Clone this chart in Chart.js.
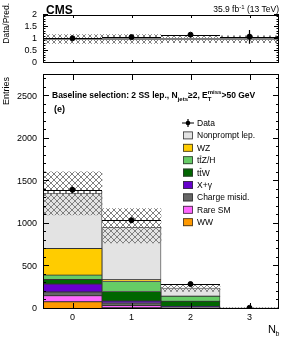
<!DOCTYPE html>
<html><head><meta charset="utf-8">
<script src="https://cdn.jsdelivr.net/npm/chart.js@4/dist/chart.umd.min.js"></script>
<style>
html,body{margin:0;padding:0;background:#fff;width:291px;height:339px;overflow:hidden}
canvas{position:absolute;left:0;top:0}
</style></head><body>
<canvas id="ratio" width="291" height="339"></canvas>
<canvas id="main" width="291" height="339"></canvas>
<script>
// ---------- data ----------
const categories = ["0", "1", "2", "3"];
const ww          = [85, 15, 2, 0.2];
const rareSM      = [71, 27, 5, 0.5];
const chargeMisid = [43, 28, 15, 1];
const xGamma      = [94, 24, 6, 0.5];
const ttW         = [54, 112, 62, 3];
const ttZH        = [51, 117, 58, 3];
const wz          = [312, 20, 3, 0.3];
const nonprompt   = [648, 617, 95, 5];
const dataCounts  = [1400, 1042, 293, 14];
const dataErr     = [37, 32, 17, 3.7];
const uncLow      = [1105, 775, 206, 8];
const uncHigh     = [1610, 1180, 288, 18];
const ratioVals     = [1.03, 1.08, 1.18, 1.1];
const ratioErrLow   = [0.03, 0.03, 0.06, 0.3];
const ratioErrHigh  = [0.03, 0.03, 0.06, 0.27];
const ratioUncLow   = [0.82, 0.82, 0.85, 0.85];
const ratioUncHigh  = [1.18, 1.18, 1.13, 1.13];
const mainYTickValues  = [0, 500, 1000, 1500, 2000, 2500];
const mainYTickLabels  = ["0", "500", "1000", "1500", "2000", "2500"];
const ratioYTickValues = [0, 0.5, 1, 1.5, 2];
const ratioYTickLabels = ["0", "0.5", "1", "1.5", "2"];

const legendNames = ["Nonprompt lep.", "WZ", "ttZ/H", "ttW", "X+\u03b3", "Charge misid.", "Rare SM", "WW"];

// ---------- style ----------
const FONT = '"Liberation Sans", Arial, Helvetica, sans-serif';
const fnt = (s, b) => (b ? 'bold ' : '') + s + 'px ' + FONT;
const COL = {
  nonprompt: '#e3e3e3', wz: '#ffcc00', ttZH: '#66cc66', ttW: '#006600',
  xGamma: '#6600cc', chargeMisid: '#666666', rareSM: '#ff66ff', ww: '#ff9900'
};
const BORDER = '#333333';

function makeHatch(ctx) {
  const c = document.createElement('canvas'); c.width = 6; c.height = 6;
  const g = c.getContext('2d');
  g.strokeStyle = '#808080'; g.lineWidth = 1;
  g.beginPath(); g.moveTo(-1, -1); g.lineTo(7, 7); g.moveTo(7, -1); g.lineTo(-1, 7); g.stroke();
  return ctx.createPattern(c, 'repeat');
}

function frameAndTicks(chart, cfg) {
  const {ctx, chartArea: a, scales} = chart;
  const y = scales.y, x = scales.x;
  ctx.save();
  ctx.strokeStyle = '#000'; ctx.lineWidth = 1;
  ctx.strokeRect(Math.round(a.left) + 0.5, Math.round(a.top) + 0.5,
                 Math.round(a.right) - Math.round(a.left) - 1, Math.round(a.bottom) - Math.round(a.top) - 1);
  ctx.beginPath();
  for (let k = 0; k * cfg.minorStep <= cfg.max + 1e-9; k++) {
    const v = k * cfg.minorStep;
    const py = Math.round(y.getPixelForValue(v)) - 0.5;
    const major = (k % cfg.perMajor) === 0;
    const L = major ? cfg.majorLen : cfg.minorLen;
    ctx.moveTo(a.left, py); ctx.lineTo(a.left + L, py);
    ctx.moveTo(a.right, py); ctx.lineTo(a.right - L, py);
  }
  categories.forEach((c, i) => {
    const px = Math.round(x.getPixelForValue(i)) + 0.5;
    ctx.moveTo(px, a.bottom); ctx.lineTo(px, a.bottom - cfg.xLen);
    ctx.moveTo(px, a.top); ctx.lineTo(px, a.top + cfg.xLen);
  });
  ctx.stroke();
  ctx.restore();
}

function drawDataMarks(chart, vals, lo, hi) {
  const {ctx, scales: {x, y}} = chart;
  const half = (x.getPixelForValue(1) - x.getPixelForValue(0)) / 2;
  ctx.save(); ctx.strokeStyle = '#000'; ctx.lineWidth = 1.2;
  vals.forEach((v, i) => {
    const px = x.getPixelForValue(i), py = Math.round(y.getPixelForValue(v)) + 0.5;
    ctx.beginPath();
    ctx.moveTo(px - half, py); ctx.lineTo(px + half, py);
    ctx.moveTo(px, y.getPixelForValue(v - lo[i])); ctx.lineTo(px, y.getPixelForValue(v + hi[i]));
    ctx.stroke();
  });
  ctx.restore();
}

// ---------- ratio panel ----------
const rctx = document.getElementById('ratio').getContext('2d');
const rHatch = makeHatch(rctx);
new Chart(rctx, {
  type: 'bar',
  data: {
    labels: categories,
    datasets: [
      { type: 'line', data: ratioVals, showLine: false, pointRadius: 2.5, pointBackgroundColor: '#000',
        pointBorderColor: '#000', order: -2 },
      { data: categories.map((c, i) => [ratioUncLow[i], ratioUncHigh[i]]), backgroundColor: rHatch,
        borderWidth: 0, barPercentage: 1, categoryPercentage: 1, order: -1 }
    ]
  },
  options: {
    responsive: false, animation: false, devicePixelRatio: 1, events: [],
    layout: { padding: { left: 0, right: 12, top: 15, bottom: 276 } },
    plugins: { legend: { display: false }, tooltip: { enabled: false } },
    scales: {
      x: { offset: true, grid: { display: false, drawTicks: false, tickLength: 0 }, border: { display: false },
           ticks: { display: false }, afterFit: s => { s.height = 0; } },
      y: { min: 0, max: 2, grid: { display: false, drawTicks: false, tickLength: 0 }, border: { display: false },
           ticks: { autoSkip: false, padding: 6, color: '#000', font: { family: FONT, size: 9 },
                    callback: (v, i) => ratioYTickLabels[i] },
           afterBuildTicks: s => { s.ticks = ratioYTickValues.map(v => ({ value: v })); },
           afterFit: s => { s.width = 43; } }
    }
  },
  plugins: [{
    id: 'ratioDeco',
    beforeDatasetsDraw(chart) {
      const {ctx, chartArea: a, scales: {y}} = chart;
      ctx.save(); ctx.strokeStyle = '#555'; ctx.lineWidth = 1.6;
      const py = y.getPixelForValue(1);
      ctx.beginPath(); ctx.moveTo(a.left, py); ctx.lineTo(a.right, py); ctx.stroke();
      ctx.restore();
    },
    afterDatasetsDraw(chart) {
      drawDataMarks(chart, ratioVals, ratioErrLow, ratioErrHigh);
      frameAndTicks(chart, { minorStep: 0.1, perMajor: 5, max: 2, majorLen: 5, minorLen: 2.5, xLen: 3 });
      const {ctx, chartArea: a} = chart;
      ctx.save();
      ctx.fillStyle = '#000';
      ctx.font = fnt(12, true); ctx.textAlign = 'left'; ctx.textBaseline = 'alphabetic';
      ctx.fillText('CMS', 46, 14);
      // lumi
      ctx.font = fnt(8.5);
      const p1 = '35.9 fb', p2 = '-1', p3 = ' (13 TeV)';
      const w1 = ctx.measureText(p1).width, w3 = ctx.measureText(p3).width;
      ctx.font = fnt(6); const w2 = ctx.measureText(p2).width;
      let xx = a.right - (w1 + w2 + w3);
      ctx.font = fnt(8.5); ctx.fillText(p1, xx, 12); xx += w1;
      ctx.font = fnt(6); ctx.fillText(p2, xx, 8.5); xx += w2;
      ctx.font = fnt(8.5); ctx.fillText(p3, xx, 12);
      // y title
      ctx.translate(9, 3); ctx.rotate(-Math.PI / 2);
      ctx.font = fnt(8.5); ctx.textAlign = 'right'; ctx.textBaseline = 'alphabetic';
      ctx.fillText('Data/Pred.', 0, 0);
      ctx.restore();
    }
  }]
});

// ---------- main panel ----------
const mctx = document.getElementById('main').getContext('2d');
const mHatch = makeHatch(mctx);
const stackDS = (label, vals, color) => ({
  label, data: vals, backgroundColor: color, borderColor: BORDER, borderWidth: 0.8, borderSkipped: false,
  barPercentage: 1, categoryPercentage: 1, yAxisID: 'y'
});
const stackSets = [
  stackDS('WW', ww, COL.ww),
  stackDS('Rare SM', rareSM, COL.rareSM),
  stackDS('Charge misid.', chargeMisid, COL.chargeMisid),
  stackDS('X+\u03b3', xGamma, COL.xGamma),
  stackDS('ttW', ttW, COL.ttW),
  stackDS('ttZ/H', ttZH, COL.ttZH),
  stackDS('WZ', wz, COL.wz),
  stackDS('Nonprompt lep.', nonprompt, COL.nonprompt)
];
const legendColors = [COL.nonprompt, COL.wz, COL.ttZH, COL.ttW, COL.xGamma, COL.chargeMisid, COL.rareSM, COL.ww];

new Chart(mctx, {
  type: 'bar',
  data: {
    labels: categories,
    datasets: [
      { type: 'line', data: dataCounts, yAxisID: 'yu', showLine: false, pointRadius: 2.5,
        pointBackgroundColor: '#000', pointBorderColor: '#000', order: -2 },
      { data: categories.map((c, i) => [uncLow[i], uncHigh[i]]), yAxisID: 'yu', grouped: false,
        backgroundColor: mHatch, borderWidth: 0, barPercentage: 1, categoryPercentage: 1, order: -1 },
      ...stackSets
    ]
  },
  options: {
    responsive: false, animation: false, devicePixelRatio: 1, events: [],
    layout: { padding: { left: 0, right: 12, top: 74, bottom: 14 } },
    plugins: { legend: { display: false }, tooltip: { enabled: false } },
    scales: {
      x: { stacked: true, offset: true, grid: { display: false, drawTicks: false, tickLength: 0 },
           border: { display: false },
           ticks: { padding: 3, color: '#000', font: { family: FONT, size: 9 } },
           afterFit: s => { s.height = 16; } },
      y: { stacked: true, min: 0, max: 2760, grid: { display: false, drawTicks: false, tickLength: 0 },
           border: { display: false },
           ticks: { autoSkip: false, padding: 6, color: '#000', font: { family: FONT, size: 9 },
                    callback: (v, i) => mainYTickLabels[i] },
           afterBuildTicks: s => { s.ticks = mainYTickValues.map(v => ({ value: v })); },
           afterFit: s => { s.width = 43; } },
      yu: { display: false, stacked: false, min: 0, max: 2760 }
    }
  },
  plugins: [{
    id: 'mainDeco',
    afterDatasetsDraw(chart) {
      drawDataMarks(chart, dataCounts, dataErr, dataErr);
      frameAndTicks(chart, { minorStep: 100, perMajor: 5, max: 2760, majorLen: 6, minorLen: 3, xLen: 6 });
      const {ctx, chartArea: a} = chart;
      ctx.save();
      ctx.fillStyle = '#000'; ctx.textBaseline = 'alphabetic'; ctx.textAlign = 'left';
      // header
      let x = 52; const y = 98;
      const put = (t, font, dy) => { ctx.font = font; ctx.fillText(t, x, y + dy); return ctx.measureText(t).width; };
      x += put('Baseline selection: 2 SS lep., N', fnt(8.5, true), 0);
      x += put('jets', fnt(6, true), 2.5);
      x += put('\u22652, E', fnt(8.5, true), 0);
      ctx.font = fnt(6, true);
      const wm = ctx.measureText('miss').width;
      ctx.fillText('miss', x, y - 4); ctx.fillText('T', x, y + 2.5); x += wm;
      put('>50 GeV', fnt(8.5, true), 0);
      // (e)
      ctx.font = fnt(9, true); ctx.fillText('(e)', 54, 112);
      // legend
      const bx = 183, tx = 197, y0 = 123, dy = 12.4;
      ctx.font = fnt(8.5);
      ctx.strokeStyle = '#000'; ctx.lineWidth = 1.2;
      ctx.beginPath(); ctx.moveTo(bx - 1, y0); ctx.lineTo(bx + 11, y0); ctx.moveTo(bx + 5, y0 - 4); ctx.lineTo(bx + 5, y0 + 4); ctx.stroke();
      ctx.beginPath(); ctx.arc(bx + 5, y0, 2.3, 0, Math.PI * 2); ctx.fill();
      ctx.fillText('Data', tx, y0 + 3);
      legendNames.forEach((name, i) => {
        const yy = y0 + dy * (i + 1);
        ctx.fillStyle = legendColors[i];
        ctx.fillRect(bx, yy - 4, 10, 8);
        ctx.strokeStyle = BORDER; ctx.lineWidth = 0.8;
        ctx.strokeRect(bx + 0.5, yy - 3.5, 9, 7);
        ctx.fillStyle = '#000';
        ctx.fillText(name, tx, yy + 3);
        if (name.startsWith('tt')) {
          const wt = ctx.measureText('t').width;
          ctx.beginPath(); ctx.lineWidth = 0.7;
          ctx.moveTo(tx + wt + 0.3, yy - 4.2); ctx.lineTo(tx + 2 * wt - 0.3, yy - 4.2);
          ctx.strokeStyle = '#000'; ctx.stroke();
        }
      });
      // y title
      ctx.save();
      ctx.translate(9, 77); ctx.rotate(-Math.PI / 2);
      ctx.font = fnt(9); ctx.textAlign = 'right';
      ctx.fillText('Entries', 0, 0);
      ctx.restore();
      // x title
      ctx.font = fnt(11); ctx.textAlign = 'left';
      ctx.fillText('N', 268, 333);
      const wn = ctx.measureText('N').width;
      ctx.font = fnt(7); ctx.fillText('b', 268 + wn - 0.5, 336);
      ctx.restore();
    }
  }]
});
</script>
</body></html>
